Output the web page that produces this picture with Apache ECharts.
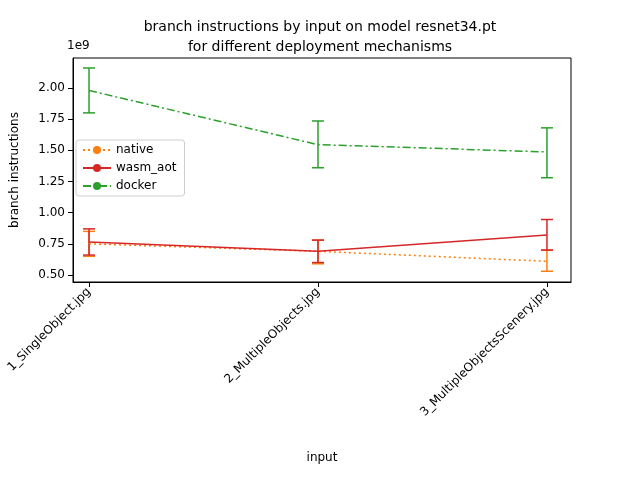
<!DOCTYPE html>
<html><head><meta charset="utf-8">
<script src="https://cdn.jsdelivr.net/npm/echarts@6/dist/echarts.min.js"></script>
</head><body style="margin:0">
<div id="echart" style="width:640px;height:480px"></div>
<script>
var categories = ['1_SingleObject.jpg', '2_MultipleObjects.jpg', '3_MultipleObjectsScenery.jpg'];
var yTicks = [0.5, 0.75, 1.0, 1.25, 1.5, 1.75, 2.0];
// values in units of 1e9
var nativeMean = [0.75, 0.69, 0.61];
var nativeLow = [0.65, 0.59, 0.53];
var nativeHigh = [0.85, 0.78, 0.70];
var wasmMean = [0.765, 0.69, 0.82];
var wasmLow = [0.66, 0.60, 0.70];
var wasmHigh = [0.87, 0.78, 0.945];
var dockerMean = [1.98, 1.545, 1.487];
var dockerLow = [1.80, 1.36, 1.28];
var dockerHigh = [2.16, 1.735, 1.68];

var myChart = echarts.init(document.getElementById('echart'));
var font = 'DejaVu Sans';

function pts(arr) { return arr.map(function (v, i) { return [i, v]; }); }
function errs(lo, hi) { return lo.map(function (v, i) { return [i, v, hi[i]]; }); }

function errSeries(name, color, lo, hi) {
    return {
        name: name, type: 'custom', data: errs(lo, hi), z: 3, itemStyle: { color: color },
        renderItem: function (params, api) {
            var a = api.coord([api.value(0), api.value(1)]);
            var b = api.coord([api.value(0), api.value(2)]);
            var w = 6;
            var st = { stroke: color, lineWidth: 1.5 };
            return { type: 'group', children: [
                { type: 'line', shape: { x1: a[0], y1: a[1], x2: b[0], y2: b[1] }, style: st },
                { type: 'line', shape: { x1: a[0] - w, y1: a[1], x2: a[0] + w, y2: a[1] }, style: st },
                { type: 'line', shape: { x1: b[0] - w, y1: b[1], x2: b[0] + w, y2: b[1] }, style: st }
            ] };
        }
    };
}
function lineSeries(name, color, data, dash) {
    return { name: name, type: 'line', data: pts(data), symbol: 'none', z: 4,
        lineStyle: { color: color, width: 1.5, type: dash }, itemStyle: { color: color } };
}

var option = {
    animation: false,
    title: {
        text: 'branch instructions by input on model resnet34.pt\nfor different deployment mechanisms',
        left: 'center', top: 12,
        textStyle: { fontFamily: font, fontSize: 14, fontWeight: 'normal', color: '#000', lineHeight: 20 }
    },
    grid: { left: 73, right: 69, top: 58, bottom: 198, show: true, borderColor: '#000', borderWidth: 1 },
    legend: {
        orient: 'vertical', left: 76, top: 140, itemGap: 6, itemWidth: 28, itemHeight: 10,
        borderColor: '#ccc', borderWidth: 1, borderRadius: 3, padding: [4, 8, 4, 6],
        textStyle: { fontFamily: font, fontSize: 12, color: '#000' },
        data: ['native', 'wasm_aot', 'docker']
    },
    xAxis: {
        type: 'value', min: -0.07, max: 2.105,
        name: 'input', nameLocation: 'middle', nameGap: 170,
        nameTextStyle: { fontFamily: font, fontSize: 12, color: '#000' },
        splitLine: { show: false },
        axisLine: { onZero: false, lineStyle: { color: '#000' } },
        axisTick: { show: true, customValues: [0, 1, 2], lineStyle: { color: '#000' } },
        axisLabel: {
            rotate: 45, fontFamily: font, fontSize: 12, color: '#000', margin: 8,
            customValues: [0, 1, 2],
            formatter: function (v) { return categories[Math.round(v)]; }
        }
    },
    yAxis: {
        type: 'value', min: 0.444, max: 2.24,
        name: 'branch instructions', nameLocation: 'middle', nameGap: 52,
        nameTextStyle: { fontFamily: font, fontSize: 12, color: '#000' },
        splitLine: { show: false },
        axisLine: { show: true, onZero: false, lineStyle: { color: '#000' } },
        axisTick: { show: true, customValues: yTicks, lineStyle: { color: '#000' } },
        axisLabel: {
            fontFamily: font, fontSize: 12, color: '#000', customValues: yTicks,
            formatter: function (v) { return v.toFixed(2); }
        }
    },
    graphic: [{ type: 'text', left: 67, top: 40, style: { text: '1e9', font: '12px DejaVu Sans', fill: '#000' } }],
    series: [
        lineSeries('native', '#ff7f0e', nativeMean, [2, 3]),
        lineSeries('wasm_aot', '#d62728', wasmMean, 'solid'),
        lineSeries('docker', '#2ca02c', dockerMean, [8, 3, 2, 3]),
        errSeries('native', '#ff7f0e', nativeLow, nativeHigh),
        errSeries('wasm_aot', '#d62728', wasmLow, wasmHigh),
        errSeries('docker', '#2ca02c', dockerLow, dockerHigh)
    ]
};
myChart.setOption(option);
</script>
</body></html>
